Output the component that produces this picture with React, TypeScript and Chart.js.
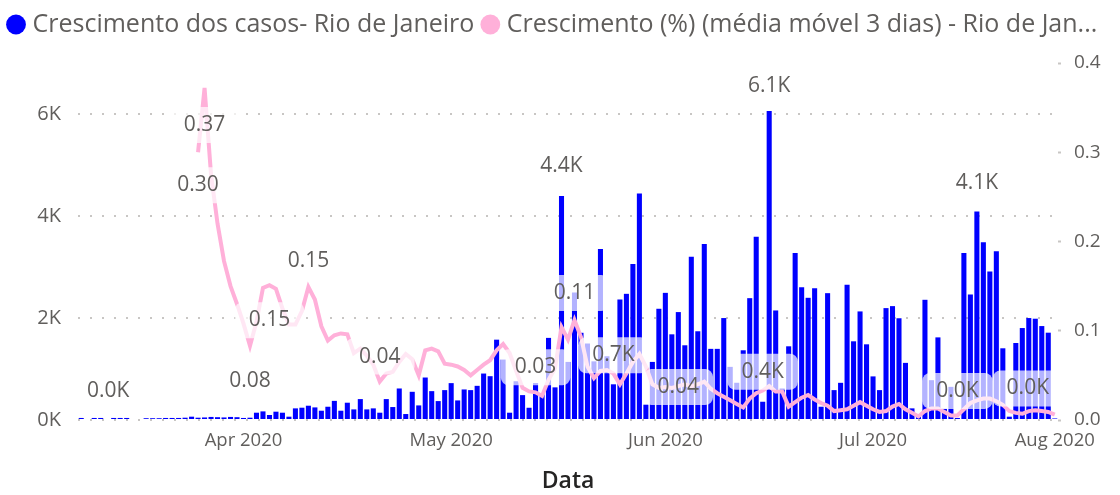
import React, { useEffect, useRef } from 'react';
import { Chart, registerables } from 'chart.js';

Chart.register(...registerables);

const FONT = '"Open Sans", "Noto Sans", sans-serif';
const TEXT_GRAY = '#605E5C';

const seriesNames = [
  'Crescimento dos casos- Rio de Janeiro',
  'Crescimento (%) (média móvel 3 dias) - Rio de Janeiro',
];
const legendTexts = [
  'Crescimento dos casos- Rio de Janeiro',
  'Crescimento (%) (média móvel 3 dias) - Rio de Jan...',
];

// daily new cases (bars, left axis)
const dailyCases = [
  40, 0, 40, 40, 0, 40, 40, 40, 0, 0,
  35, 35, 35, 40, 40, 40, 45, 65, 45, 50,
  60, 55, 50, 60, 55, 40, 45, 143, 169, 98,
  163, 143, 65, 228, 241, 280, 247, 182, 260, 375,
  182, 339, 208, 410, 208, 228, 143, 410, 254, 618,
  117, 553, 286, 833, 566, 371, 586, 723, 384, 599,
  586, 670, 911, 859, 1575, 1185, 143, 760, 488, 240,
  725, 500, 1610, 640, 4394, 1139, 2500, 1710, 1500, 1150,
  3353, 1250, 700, 2363, 2474, 3060, 4440, 300, 1139, 2181,
  2493, 1680, 2116, 1465, 3203, 1740, 3450, 1395, 1395, 1999,
  1042, 730, 1367, 2389, 3594, 358, 6060, 2148, 618, 1445,
  3275, 2604, 2396, 2584, 260, 2487, 586, 729, 2650, 1543,
  2129, 1484, 855, 586, 2194, 2233, 1995, 1120, 228, 65,
  2357, 781, 1620, 220, 650, 40, 3274, 2461, 4088, 3483,
  2910, 3307, 1406, 65, 1510, 1803, 1999, 1986, 1842, 1712,
  30,
];

// growth rate, 3-day moving average (line, right axis)
const growthMA3: (number | null)[] = [
  null, null, null, null, null, null, null, null, null, null,
  null, null, null, null, null, null, null, null, 0.30, 0.372,
  0.275, 0.22, 0.178, 0.15, 0.13, 0.108, 0.083, 0.11, 0.148, 0.151,
  0.147, 0.125, 0.107, 0.107, 0.122, 0.149, 0.135, 0.105, 0.089, 0.095,
  0.097, 0.096, 0.075, 0.08, 0.072, 0.062, 0.043, 0.052, 0.054, 0.065,
  0.074, 0.068, 0.05, 0.078, 0.08, 0.077, 0.063, 0.062, 0.06, 0.056,
  0.05, 0.056, 0.062, 0.067, 0.078, 0.085, 0.075, 0.055, 0.036, 0.032,
  0.031, 0.027, 0.045, 0.058, 0.104, 0.09, 0.112, 0.093, 0.06, 0.047,
  0.055, 0.056, 0.052, 0.04, 0.052, 0.065, 0.074, 0.06, 0.04, 0.036,
  0.037, 0.036, 0.038, 0.04, 0.038, 0.04, 0.043, 0.035, 0.03, 0.026,
  0.022, 0.018, 0.014, 0.024, 0.03, 0.033, 0.038, 0.032, 0.032, 0.015,
  0.02, 0.025, 0.028, 0.023, 0.019, 0.016, 0.01, 0.011, 0.012, 0.016,
  0.02, 0.016, 0.012, 0.009, 0.01, 0.015, 0.018, 0.012, 0.008, 0.004,
  0.01, 0.013, 0.013, 0.009, 0.005, 0.005, 0.012, 0.019, 0.022, 0.024,
  0.024, 0.021, 0.017, 0.01, 0.008, 0.007, 0.01, 0.011, 0.01, 0.009,
  0.006,
];

const days = dailyCases.map((_, i) => `Dia ${i + 1}`);

const monthTickIndex = [25, 57, 90, 122, 150];
const monthTickLabels = ['Apr 2020', 'May 2020', 'Jun 2020', 'Jul 2020', 'Aug 2020'];

const leftTicks = [0, 2000, 4000, 6000];
const rightTicks = [0, 0.1, 0.2, 0.3, 0.4];

// which points carry a data label (series 0 = bars, 1 = line) and label offset
const dataLabels = [
  { series: 0, index: 4, dy: -29 },
  { series: 1, index: 19, dy: 37 },
  { series: 1, index: 18, dy: 33 },
  { series: 1, index: 35, dy: -26 },
  { series: 1, index: 29, dy: 35 },
  { series: 1, index: 26, dy: 35 },
  { series: 1, index: 46, dy: -25 },
  { series: 0, index: 74, dy: -30 },
  { series: 1, index: 76, dy: -27 },
  { series: 1, index: 70, dy: -25 },
  { series: 0, index: 82, dy: -29 },
  { series: 1, index: 92, dy: 1 },
  { series: 0, index: 106, dy: -25 },
  { series: 0, index: 105, dy: -30 },
  { series: 0, index: 138, dy: -28 },
  { series: 0, index: 135, dy: -27 },
  { series: 0, index: 150, dy: -30 },
];

const fmtK = (v: number) => `${(v / 1000).toFixed(1)}K`;

const labelPlugin = {
  id: 'pbiLabels',
  afterDatasetsDraw(chart: any) {
    const { ctx, chartArea } = chart;
    ctx.save();
    ctx.font = `21px ${FONT}`;
    ctx.textAlign = 'center';
    ctx.textBaseline = 'middle';
    const items: { x: number; y: number; text: string; tw: number }[] = [];
    for (const l of dataLabels) {
      const meta = chart.getDatasetMeta(l.series);
      const el = meta.data[l.index];
      if (!el) continue;
      const v = chart.data.datasets[l.series].data[l.index] as number;
      const text = l.series === 0 ? fmtK(v) : v.toFixed(2);
      const tw = ctx.measureText(text).width;
      let x = el.x;
      const half = tw / 2 + 9;
      if (x + half > chartArea.right) x = chartArea.right - half;
      if (x - half < chartArea.left) x = chartArea.left + half;
      items.push({ x, y: el.y + l.dy, text, tw });
    }
    ctx.fillStyle = 'rgba(255,255,255,0.7)';
    for (const it of items) {
      ctx.beginPath();
      (ctx as any).roundRect(it.x - it.tw / 2 - 14, it.y - 18, it.tw + 28, 36, 8);
      ctx.fill();
    }
    ctx.fillStyle = TEXT_GRAY;
    for (const it of items) ctx.fillText(it.text, it.x, it.y);
    ctx.restore();
  },
};

const legendHeightPlugin = {
  id: 'legendHeight',
  beforeLayout(chart: any) {
    const legend = chart.legend;
    if (!legend || legend.__patched) return;
    const orig = legend.fit;
    legend.fit = function () {
      orig.call(this);
      this.height = 63;
    };
    legend.__patched = true;
  },
};

export default function App() {
  const ref = useRef<HTMLCanvasElement>(null);

  useEffect(() => {
    document.body.style.margin = '0';
    const chart = new Chart(ref.current as HTMLCanvasElement, {
      type: 'bar',
      data: {
        labels: days,
        datasets: [
          {
            type: 'bar',
            label: seriesNames[0],
            data: dailyCases,
            backgroundColor: '#0000FF',
            borderWidth: 0,
            yAxisID: 'y',
            categoryPercentage: 1,
            barPercentage: 0.78,
            order: 2,
          },
          {
            type: 'line',
            label: seriesNames[1],
            data: growthMA3,
            borderColor: '#FFB0D9',
            backgroundColor: '#FFB0D9',
            borderWidth: 4,
            pointRadius: 0,
            tension: 0,
            spanGaps: false,
            yAxisID: 'y1',
            order: 1,
          },
        ],
      },
      options: {
        responsive: true,
        maintainAspectRatio: false,
        animation: false,
        layout: { padding: 0 },
        plugins: {
          tooltip: { enabled: false },
          legend: {
            position: 'top',
            align: 'start',
            labels: {
              usePointStyle: true,
              pointStyle: 'circle',
              boxWidth: 8,
              boxHeight: 14,
              padding: 12,
              color: TEXT_GRAY,
              font: { family: FONT, size: 25 },
              generateLabels: (ch: any) =>
                ch.data.datasets.map((ds: any, i: number) => ({
                  text: legendTexts[i],
                  fillStyle: ds.backgroundColor,
                  strokeStyle: ds.backgroundColor,
                  lineWidth: 0,
                  pointStyle: 'circle',
                  hidden: false,
                  datasetIndex: i,
                  fontColor: TEXT_GRAY,
                })),
            },
          },
        },
        scales: {
          x: {
            type: 'category',
            offset: true,
            grid: { display: false, drawTicks: false },
            border: { display: false },
            ticks: {
              autoSkip: false,
              maxRotation: 0,
              minRotation: 0,
              padding: 10,
              color: TEXT_GRAY,
              font: { family: FONT, size: 18.5 },
              callback: (_v: any, i: number) => {
                const k = monthTickIndex.indexOf(i);
                return k >= 0 ? monthTickLabels[k] : null;
              },
            },
            title: {
              display: true,
              text: 'Data',
              color: '#252423',
              font: { family: FONT, size: 23, weight: '600' },
              padding: 0,
            },
            afterFit: (s: any) => {
              s.height = 75;
            },
          },
          y: {
            position: 'left',
            min: 0,
            max: 7000,
            afterBuildTicks: (s: any) => {
              s.ticks = leftTicks.map((value) => ({ value }));
            },
            ticks: {
              padding: 17,
              color: TEXT_GRAY,
              font: { family: FONT, size: 20 },
              callback: (v: any) => `${Number(v) / 1000}K`,
            },
            grid: { color: '#C8C6C4', lineWidth: 2, drawTicks: false },
            border: { display: false, dash: [2, 10] },
            afterFit: (s: any) => {
              s.width = 78;
            },
          },
          y1: {
            position: 'right',
            min: 0,
            max: 0.4,
            afterBuildTicks: (s: any) => {
              s.ticks = rightTicks.map((value) => ({ value }));
            },
            ticks: {
              padding: 13,
              color: TEXT_GRAY,
              font: { family: FONT, size: 19 },
              callback: (v: any) => Number(v).toFixed(1),
            },
            grid: {
              drawOnChartArea: false,
              drawTicks: true,
              tickLength: 3,
              tickWidth: 2,
              tickColor: '#C8C6C4',
            },
            border: { display: false },
            afterFit: (s: any) => {
              s.width = 62;
            },
          },
        },
      },
      plugins: [labelPlugin, legendHeightPlugin],
    } as any);
    return () => chart.destroy();
  }, []);

  return (
    <div style={{ width: 1120, height: 495, position: 'relative' }}>
      <canvas ref={ref} />
    </div>
  );
}
